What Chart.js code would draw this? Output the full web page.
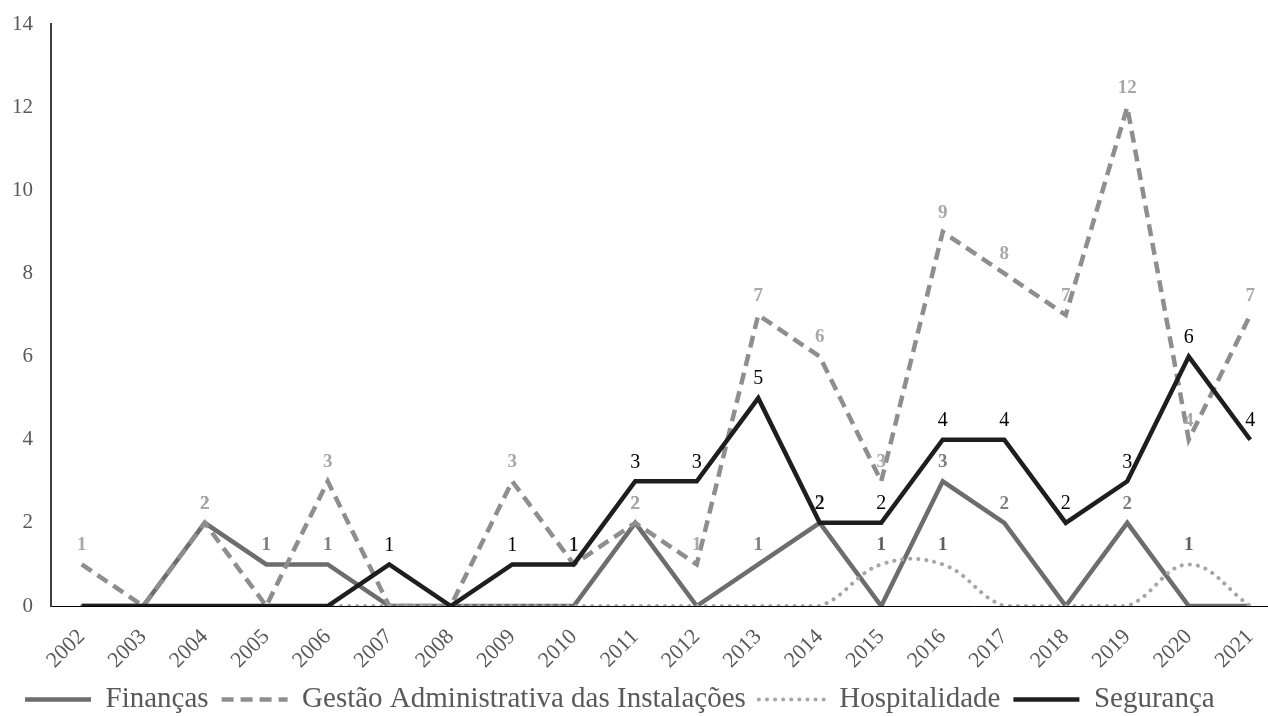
<!DOCTYPE html>
<html>
<head>
<meta charset="utf-8">
<title>Publicações por área</title>
<script src="https://cdn.jsdelivr.net/npm/chart.js@4.4.0/dist/chart.umd.min.js"></script>
<style>
    html, body { margin: 0; padding: 0; background: #fff; overflow: hidden; }
    #wrap { position: relative; width: 1284px; height: 724px; }
</style>
</head>
<body>
<div id="wrap"><canvas id="areaChart"></canvas></div>
<script>
// ==========================
// Data
// ==========================

const years = ["2002", "2003", "2004", "2005", "2006", "2007", "2008", "2009", "2010", "2011",
               "2012", "2013", "2014", "2015", "2016", "2017", "2018", "2019", "2020", "2021"];

const financas      = [0, 0, 2, 1, 1, 0, 0, 0, 0, 2, 0, 1, 2, 0, 3, 2, 0, 2, 0, 0];
const gestao        = [1, 0, 2, 0, 3, 0, 0, 3, 1, 2, 1, 7, 6, 3, 9, 8, 7, 12, 4, 7];
const hospitalidade = [0, 0, 0, 0, 0, 0, 0, 0, 0, 0, 0, 0, 0, 1, 1, 0, 0, 0, 1, 0];
const seguranca     = [0, 0, 0, 0, 0, 1, 0, 1, 1, 3, 3, 5, 2, 2, 4, 4, 2, 3, 6, 4];

const yMin = 0;
const yMax = 14;
const yStep = 2;

const serif = "'Liberation Serif', 'Times New Roman', serif";

// ---------------- Value labels above the points ----------------

const valueLabels = {

    id: "valueLabels",

    afterDatasetsDraw(chart) {

        const ctx = chart.ctx;

        chart.data.datasets.forEach((ds, i) => {

            const meta = chart.getDatasetMeta(i);

            ctx.save();
            ctx.font = ds.labelFont;
            ctx.fillStyle = ds.labelColor;
            ctx.textAlign = "center";
            ctx.textBaseline = "middle";

            meta.data.forEach((pt, j) => {
                if (!ds.data[j]) return;
                ctx.fillText(String(ds.data[j]), pt.x, pt.y - 19);
            });

            ctx.restore();

        });

    }

};

// Legend samples keep the dash pattern of their line
function legendLabels(chart) {

    const items = Chart.defaults.plugins.legend.labels.generateLabels(chart);

    items.forEach(item => {
        const ds = chart.data.datasets[item.datasetIndex];
        item.lineDash = ds.borderDash || [];
        item.lineCap = ds.borderCapStyle || "butt";
        item.lineWidth = ds.borderWidth;
        item.strokeStyle = ds.borderColor;
    });

    return items.sort((a, b) => a.datasetIndex - b.datasetIndex);

}

// ---------------- Chart ----------------

const ctx = document.getElementById("areaChart").getContext("2d");

new Chart(ctx, {

    type: "line",

    data: {

        labels: years,

        datasets: [

            {
                label: "Finanças",
                data: financas,
                borderColor: "#6d6d6d",
                borderWidth: 4.5,
                order: 4,
                labelColor: "#7f7f7f",
                labelFont: "bold 19px " + serif
            },

            {
                label: "Gestão Administrativa das Instalações",
                data: gestao,
                borderColor: "#8e8e8e",
                borderWidth: 4.5,
                borderDash: [12, 7],
                order: 3,
                labelColor: "#a8a8a8",
                labelFont: "bold 19px " + serif
            },

            {
                label: "Hospitalidade",
                data: hospitalidade,
                borderColor: "#a6a6a6",
                borderWidth: 4,
                borderDash: [0.1, 8],
                borderCapStyle: "round",
                tension: 0.4,
                order: 2,
                labelColor: "#5f5f5f",
                labelFont: "bold 19px " + serif
            },

            {
                label: "Segurança",
                data: seguranca,
                borderColor: "#1e1e1e",
                borderWidth: 4.5,
                order: 1,
                labelColor: "#000000",
                labelFont: "20px " + serif
            }

        ]

    },

    options: {

        responsive: true,
        maintainAspectRatio: false,
        animation: false,

        elements: {
            point: { radius: 0, hoverRadius: 0 },
            line: { borderJoinStyle: "miter", fill: false }
        },

        layout: {
            padding: { top: 24, left: 12, right: 3, bottom: 0 }
        },

        plugins: {

            legend: {
                position: "bottom",
                align: "start",
                labels: {
                    usePointStyle: true,
                    pointStyle: "line",
                    pointStyleWidth: 66,
                    color: "#595959",
                    font: { family: serif, size: 29 },
                    padding: 13,
                    generateLabels: legendLabels
                }
            },

            tooltip: { enabled: false }

        },

        scales: {

            x: {
                offset: true,
                grid: { display: false, drawTicks: false },
                border: { display: true, color: "#000000", width: 1 },
                ticks: {
                    autoSkip: false,
                    minRotation: 45,
                    maxRotation: 45,
                    padding: 18,
                    color: "#595959",
                    font: { family: serif, size: 22 }
                },
                afterFit: scale => {
                    scale.height = 66;
                    scale.paddingLeft = 0;
                    scale.paddingRight = 0;
                }
            },

            y: {
                min: yMin,
                max: yMax,
                grid: { display: false, drawTicks: false },
                border: { display: true, color: "#404040", width: 2 },
                ticks: {
                    stepSize: yStep,
                    padding: 18,
                    color: "#595959",
                    font: { family: serif, size: 21 }
                },
                afterFit: scale => {
                    scale.width = 39;
                    scale.paddingTop = 0;
                    scale.paddingBottom = 0;
                }
            }

        }

    },

    plugins: [valueLabels]

});
</script>
</body>
</html>
